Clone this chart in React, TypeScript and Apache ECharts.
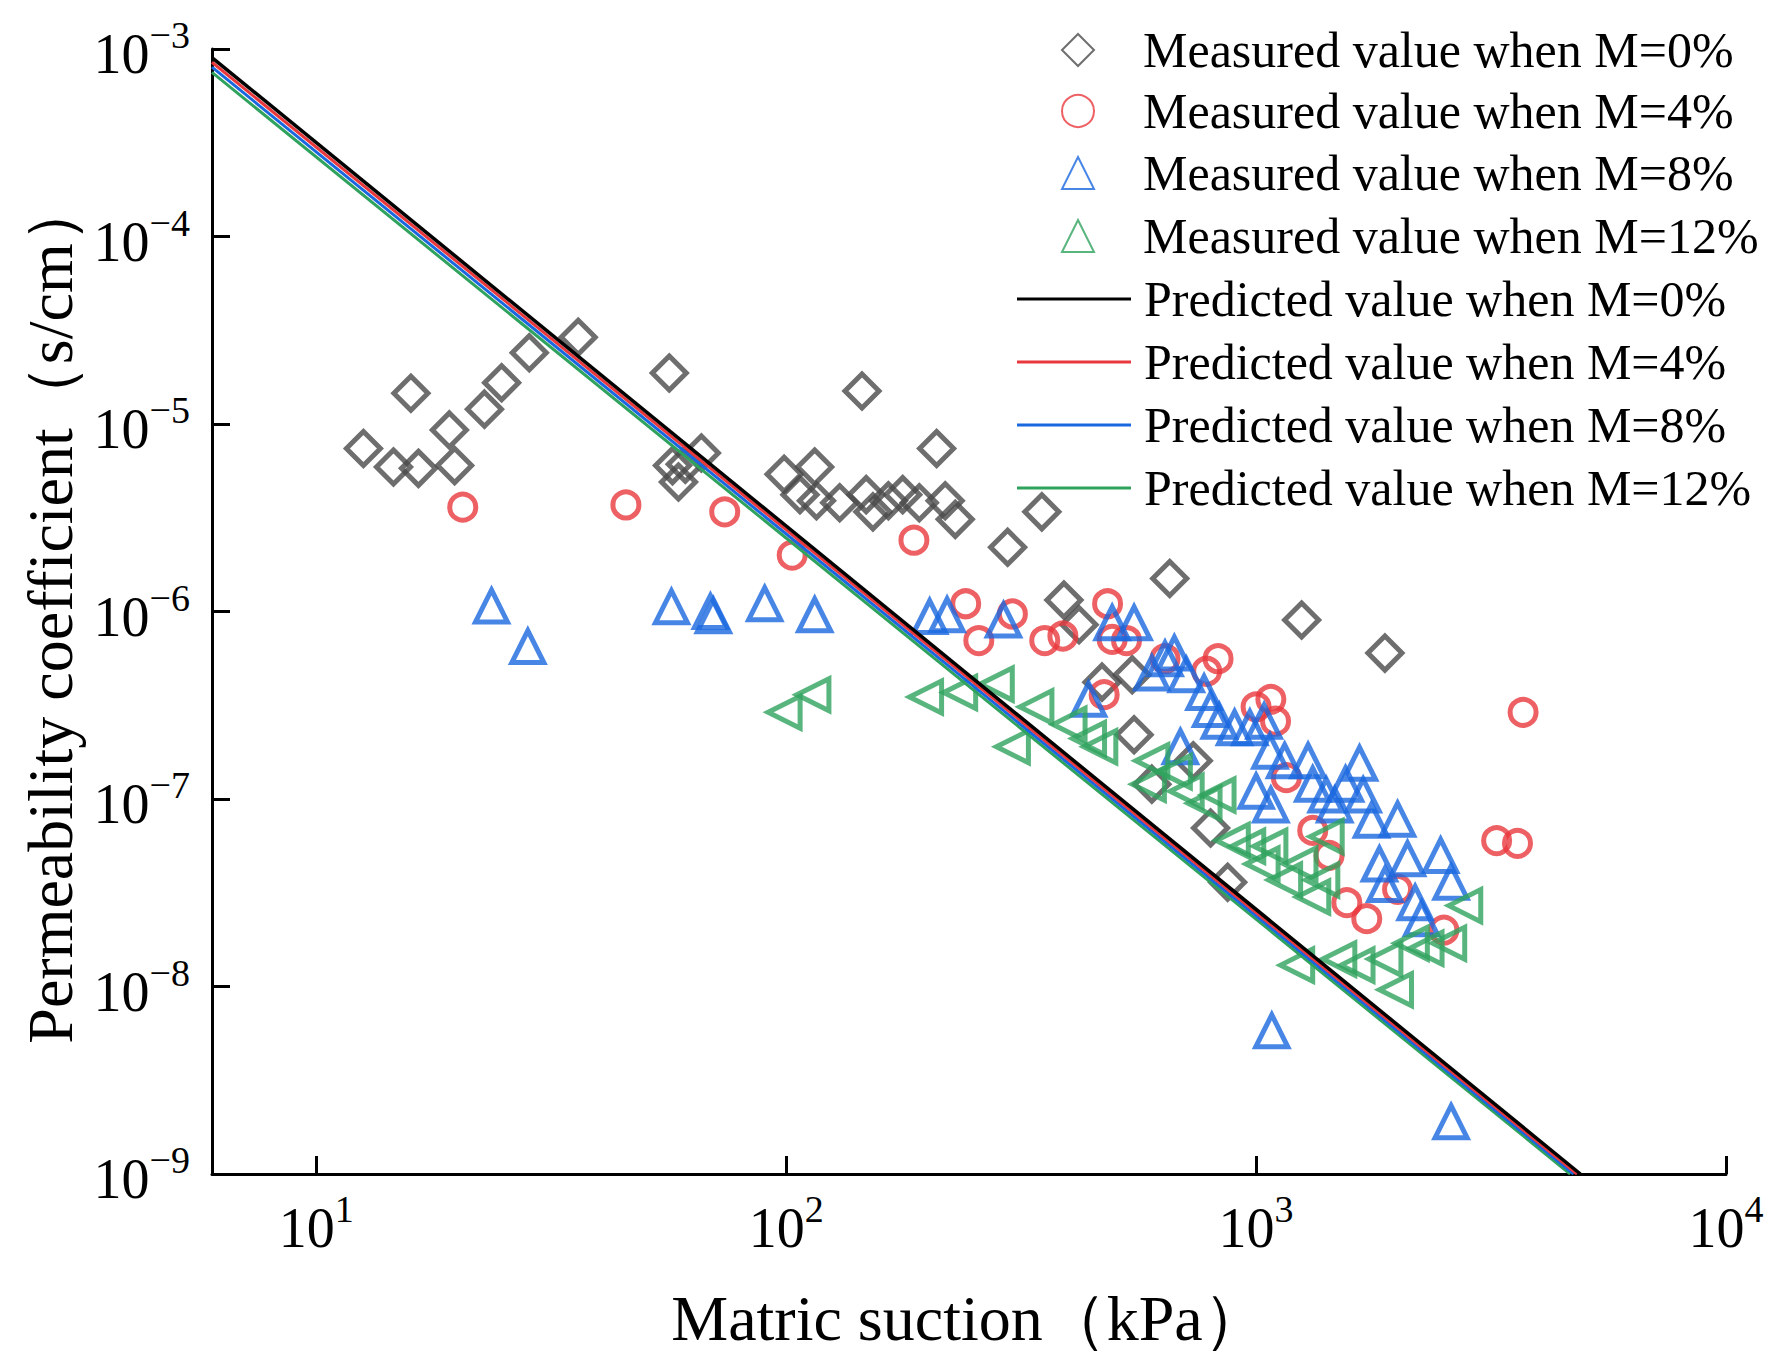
import React, { useEffect, useRef } from 'react';
import * as echarts from 'echarts';

// [matric suction kPa, permeability s/cm]
const measuredM0: number[][] = [
  [12.6, 7.4e-6], [14.6, 5.9e-6], [15.9, 1.46e-5], [16.5, 5.8e-6], [19.2, 9.3e-6], [19.7, 6e-6],
  [22.8, 1.2e-5], [24.8, 1.66e-5], [28.4, 2.4e-5], [36.1, 2.9e-5], [56.4, 1.87e-5], [57.3, 6e-6],
  [59, 4.9e-6], [61, 6.1e-6], [66, 7e-6], [99, 5.4e-6], [107, 4.2e-6], [115, 5.9e-6], [116, 3.9e-6],
  [130, 3.8e-6], [145, 1.5e-5], [148, 4.2e-6], [153, 3.4e-6], [165, 3.9e-6], [177, 4.2e-6],
  [192, 3.8e-6], [209, 7.4e-6], [218, 3.9e-6], [229, 3.1e-6], [296, 2.2e-6], [350, 3.4e-6],
  [390, 1.15e-6], [420, 8.5e-7], [470, 4.2e-7], [545, 4.6e-7], [550, 2.2e-7], [600, 1.2e-7],
  [655, 1.5e-6], [735, 1.6e-7], [800, 7e-8], [870, 3.6e-8], [1250, 9e-7], [1880, 6e-7],
];
const measuredM4: number[][] = [
  [20.5, 3.6e-6], [45.6, 3.7e-6], [74, 3.4e-6], [103, 2e-6], [187, 2.4e-6], [241, 1.1e-6],
  [257, 7e-7], [303, 9.7e-7], [355, 7e-7], [388, 7.4e-7], [475, 3.6e-7], [483, 1.1e-6],
  [494, 7.1e-7], [530, 7e-7], [640, 5.6e-7], [785, 4.8e-7], [830, 5.6e-7], [1000, 3.1e-7],
  [1075, 3.4e-7], [1100, 2.6e-7], [1160, 1.3e-7], [1320, 6.8e-8], [1430, 5e-8], [1560, 2.8e-8],
  [1720, 2.3e-8], [2000, 3.3e-8], [2510, 2e-8], [3250, 6e-8], [3600, 5.8e-8], [3700, 2.9e-7],
];
const measuredM8: number[][] = [
  [23.6, 1.07e-6], [28.2, 6.5e-7], [57, 1.06e-6], [69, 1.0e-6], [70, 9.5e-7], [90, 1.1e-6],
  [115, 9.6e-7], [202, 9.4e-7], [220, 9.6e-7], [290, 9e-7], [440, 3.4e-7], [494, 8.7e-7],
  [550, 8.7e-7], [600, 4.7e-7], [640, 5.6e-7], [670, 6e-7], [690, 1.9e-7], [710, 4.6e-7],
  [775, 3.7e-7], [800, 3e-7], [835, 2.6e-7], [900, 2.4e-7], [970, 2.4e-7], [1000, 1.1e-7],
  [1040, 2.6e-7], [1075, 9.3e-8], [1070, 1.8e-7], [1150, 1.6e-7], [1290, 1.6e-7], [1320, 1.2e-7],
  [1410, 1.05e-7], [1470, 9.3e-8], [1550, 1.2e-7], [1660, 1.55e-7], [1690, 1.05e-7], [1760, 7.7e-8],
  [1830, 4.5e-8], [1880, 3.5e-8], [2000, 7.8e-8], [2100, 4.8e-8], [2180, 2.8e-8], [2250, 2.3e-8],
  [2470, 5e-8], [2600, 3.6e-8], [1080, 5.8e-9], [2600, 1.9e-9],
];
const measuredM12: number[][] = [
  [99, 2.9e-7], [114, 3.6e-7], [198, 3.5e-7], [234, 3.7e-7], [280, 4.1e-7], [303, 1.9e-7],
  [340, 3.1e-7], [400, 2.5e-7], [440, 2.1e-7], [465, 1.9e-7], [600, 1.6e-7], [590, 1.2e-7],
  [670, 1.4e-7], [710, 1.1e-7], [775, 9.5e-8], [830, 1.05e-7], [890, 6e-8], [960, 5.6e-8],
  [1030, 4.5e-8], [1070, 5.6e-8], [1150, 3.7e-8], [1240, 4.5e-8], [1320, 3e-8], [1380, 3.7e-8],
  [1410, 6.3e-8], [1220, 1.3e-8], [1500, 1.4e-8], [1640, 1.3e-8], [1880, 1.4e-8], [1980, 9.6e-9],
  [2140, 1.7e-8], [2300, 1.6e-8], [2570, 1.7e-8], [2780, 2.7e-8],
];
const predictedM0: number[][] = [[6, 9e-4], [4900, 1e-9]];
const predictedM4: number[][] = [[6, 8.5e-4], [4820, 1e-9]];
const predictedM8: number[][] = [[6, 8e-4], [4740, 1e-9]];
const predictedM12: number[][] = [[6, 7.5e-4], [4660, 1e-9]];

const measuredNames = [
  'Measured value when M=0%', 'Measured value when M=4%', 'Measured value when M=8%', 'Measured value when M=12%',
];
const predictedNames = [
  'Predicted value when M=0%', 'Predicted value when M=4%', 'Predicted value when M=8%', 'Predicted value when M=12%',
];
const colors = ['#4a4a4a', '#e8383d', '#1a68e0', '#2fa35e'];

const FONT = '"Liberation Serif", "Times New Roman", serif';
const isPow10 = (v: number) => Math.abs(Math.log10(v) - Math.round(Math.log10(v))) < 1e-6;
const expLabel = (v: number) => {
  if (!isPow10(v)) return '';
  const e = Math.round(Math.log10(v));
  return `{b|10}{s|${e < 0 ? '\u2212' + -e : e}}`;
};
const labelRich = {
  b: { fontFamily: FONT, fontSize: 56, color: '#000', verticalAlign: 'bottom' as const },
  s: { fontFamily: FONT, fontSize: 38, color: '#000', padding: [0, 0, 28, 0], verticalAlign: 'bottom' as const },
};

const scatter = (name: string, data: number[][], symbol: string, color: string, rotate = 0) => ({
  name,
  type: 'scatter' as const,
  data,
  symbol,
  symbolSize: symbol === 'diamond' ? 34 : symbol === 'circle' ? 26 : 32,
  symbolRotate: rotate,
  itemStyle: { color: 'rgba(0,0,0,0)', borderColor: color, borderWidth: 5 },
});
const line = (name: string, data: number[][], color: string, width: number, z: number) => ({
  name,
  type: 'line' as const,
  data,
  showSymbol: false,
  symbol: 'none',
  z,
  lineStyle: { color, width },
  itemStyle: { color },
});

const rowCenters = [46, 107, 169, 232, 295, 358, 421, 484];
const legendText = { fontFamily: FONT, fontSize: 50, color: '#000' };

const App: React.FC = () => {
  const ref = useRef<HTMLDivElement>(null);
  useEffect(() => {
    if (!ref.current) return;
    const chart = echarts.init(ref.current, undefined, { renderer: 'svg' });
    const legends = [
      ...measuredNames.map((n, i) => ({
        left: 1056,
        top: rowCenters[i] - 26,
        itemWidth: 32,
        itemHeight: 32,
        textStyle: { ...legendText, padding: [0, 0, 0, 44] },
        data: [n],
      })),
      ...predictedNames.map((n, i) => ({
        left: 1012,
        top: rowCenters[i + 4] - 26,
        itemWidth: 114,
        itemHeight: 3,
        icon: 'rect',
        textStyle: { ...legendText, padding: [0, 0, 0, 8] },
        data: [n],
      })),
    ];
    const option: echarts.EChartsOption = {
      animation: false,
      backgroundColor: '#fff',
      grid: { left: 212, right: 58, top: 49, bottom: 190 },
      legend: legends as any,
      xAxis: {
        type: 'log',
        logBase: 10,
        min: 6,
        max: 10000,
        name: 'Matric suction（kPa）',
        nameLocation: 'middle',
        nameGap: 112,
        nameTextStyle: { fontFamily: FONT, fontSize: 64, color: '#000' },
        axisLine: { lineStyle: { color: '#000', width: 3 } },
        axisTick: { inside: true, length: 18, lineStyle: { color: '#000', width: 3 } },
        minorTick: { show: false },
        splitLine: { show: false },
        axisLabel: { formatter: expLabel, rich: labelRich, margin: 16, showMinLabel: false },
      },
      yAxis: {
        type: 'log',
        logBase: 10,
        min: 1e-9,
        max: 1e-3,
        name: 'Permeability coefficient（s/cm）',
        nameLocation: 'middle',
        nameGap: 128,
        nameTextStyle: { fontFamily: FONT, fontSize: 64, color: '#000' },
        axisLine: { show: true, lineStyle: { color: '#000', width: 3 } },
        axisTick: { show: true, inside: true, length: 18, lineStyle: { color: '#000', width: 3 } },
        splitLine: { show: false },
        axisLabel: { formatter: expLabel, rich: labelRich, margin: 22 },
      },
      series: [
        scatter(measuredNames[0], measuredM0, 'diamond', colors[0]),
        scatter(measuredNames[1], measuredM4, 'circle', colors[1]),
        scatter(measuredNames[2], measuredM8, 'triangle', colors[2]),
        scatter(measuredNames[3], measuredM12, 'triangle', colors[3], 90),
        line(predictedNames[3], predictedM12, colors[3], 3, 3),
        line(predictedNames[2], predictedM8, colors[2], 3, 4),
        line(predictedNames[1], predictedM4, colors[1], 3, 5),
        line(predictedNames[0], predictedM0, '#000', 3.5, 6),
      ],
    };
    chart.setOption(option);
    return () => chart.dispose();
  }, []);
  return <div ref={ref} style={{ position: 'absolute', left: 0, top: 0, width: 1784, height: 1364 }} />;
};

export default App;
